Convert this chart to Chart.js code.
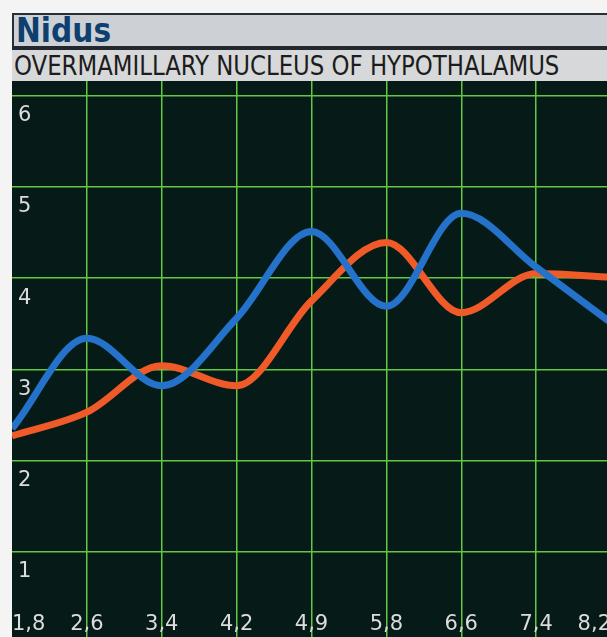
<!DOCTYPE html>
<html>
<head>
<meta charset="utf-8">
<script src="https://cdn.jsdelivr.net/npm/chart.js@4"></script>
<style>
  html, body { margin: 0; padding: 0; width: 607px; height: 637px; overflow: hidden; background: #f4f4f4; }
  #titre { position: absolute; left: 12px; top: 13px; width: 620px; height: 33px; background: #cdd1d6;
           border-top: 2px solid #2a2f36; border-left: 2px solid #2a2f36; box-sizing: border-box; }
  #titre span { position: absolute; left: 2px; top: -4px; font: bold 33px "DejaVu Sans Condensed"; color: #0d3f6f; }
  #sep { position: absolute; left: 12px; top: 46px; width: 620px; height: 4px; background: #23282e; }
  #sous { position: absolute; left: 12px; top: 50px; width: 620px; height: 31px; background: #d6d8da; }
  #sous span { position: absolute; left: 2px; top: 0px; font: 27px "DejaVu Sans Condensed"; color: #1c1c1c;
               white-space: nowrap; transform: scaleX(0.94); transform-origin: left top; }
  #zone { position: absolute; left: 12px; top: 81px; width: 599px; height: 562px; background: #061a18; }
</style>
</head>
<body>
<div id="titre"><span>Nidus</span></div>
<div id="sep"></div>
<div id="sous"><span>OVERMAMILLARY NUCLEUS OF HYPOTHALAMUS</span></div>
<div id="zone"><canvas id="grafico" width="599" height="562"></canvas></div>
<script>
// valeurs
const categorias = ['1,8', '2,6', '3,4', '4,2', '4,9', '5,8', '6,6', '7,4', '8,2'];
const serieAzul = [2.35, 3.34, 2.82, 3.56, 4.51, 3.69, 4.71, 4.12, 3.51];
const serieLaranja = [2.27, 2.53, 3.04, 2.82, 3.75, 4.39, 3.62, 4.05, 4.01];
const ticksY = [1, 2, 3, 4, 5, 6];

const corGrade = '#62c842';
const fonte = { family: 'DejaVu Sans', size: 21 };

document.addEventListener("DOMContentLoaded", () => {
  const ctx = document.getElementById("grafico").getContext("2d");

  new Chart(ctx, {
    type: 'line',
    data: {
      labels: categorias,
      datasets: [
        { data: serieAzul, borderColor: '#2472c9', borderWidth: 7, pointRadius: 0, cubicInterpolationMode: 'monotone' },
        { data: serieLaranja, borderColor: '#f05a28', borderWidth: 7, pointRadius: 0, cubicInterpolationMode: 'monotone' }
      ]
    },
    options: {
      responsive: false,
      animation: false,
      layout: { padding: 0 },
      plugins: { legend: { display: false }, tooltip: { enabled: false } },
      scales: {
        x: {
          offset: false,
          border: { display: false },
          grid: {
            drawTicks: false, lineWidth: 1.5,
            color: c => c.index === 0 ? 'rgba(0,0,0,0)' : corGrade
          },
          ticks: { mirror: true, align: 'inner', padding: 6, color: '#dcdcdc', font: fonte, maxRotation: 0, autoSkip: false },
          afterFit: s => { s.height = 0; s.paddingLeft = 0; s.paddingRight = 0; }
        },
        y: {
          min: 0, max: 6.16,
          border: { display: false },
          grid: { drawTicks: false, lineWidth: 1.5, color: corGrade },
          afterBuildTicks: s => { s.ticks = ticksY.map(v => ({ value: v })); },
          ticks: { mirror: true, padding: 6, labelOffset: 20, color: '#dcdcdc', font: fonte },
          afterFit: s => { s.width = 0; s.paddingTop = 0; s.paddingBottom = 0; }
        }
      }
    }
  });
});
</script>
</body>
</html>
